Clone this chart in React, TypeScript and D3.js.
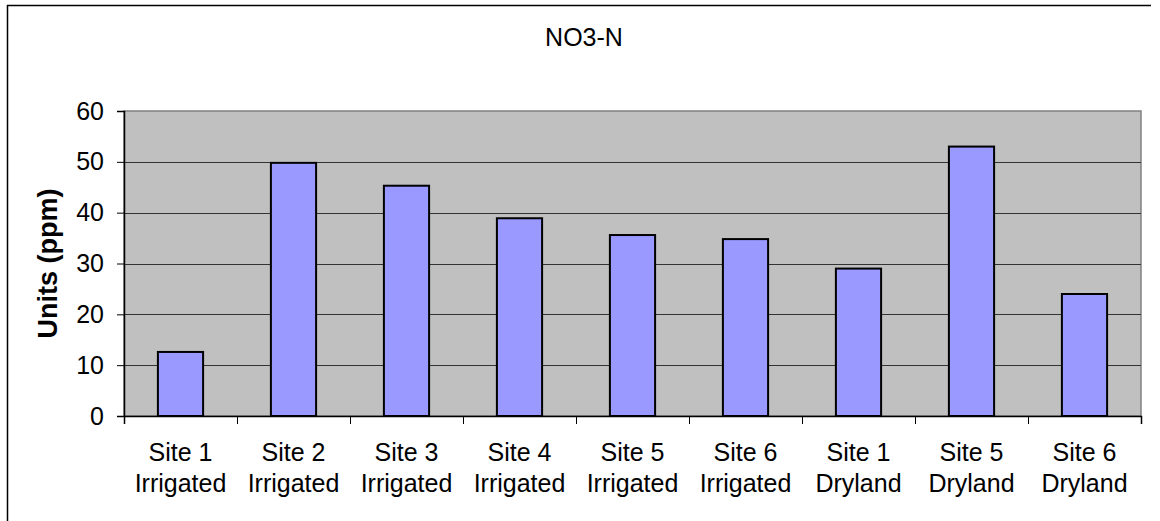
// @ts-nocheck
import React from 'react'
import * as d3 from 'd3'

const categories = [
  ['Site 1', 'Irrigated'],
  ['Site 2', 'Irrigated'],
  ['Site 3', 'Irrigated'],
  ['Site 4', 'Irrigated'],
  ['Site 5', 'Irrigated'],
  ['Site 6', 'Irrigated'],
  ['Site 1', 'Dryland'],
  ['Site 5', 'Dryland'],
  ['Site 6', 'Dryland'],
]
const values = [12.6, 49.8, 45.3, 38.9, 35.6, 34.8, 29.0, 53.0, 24.0]
const yTicks = [0, 10, 20, 30, 40, 50, 60]
const title = 'NO3-N'
const yLabel = 'Units (ppm)'

const App = () => {
  const svgRef = React.useRef(null)
  const width = 1160
  const height = 521
  const plot = { left: 124, right: 1141, top: 111, bottom: 416 }

  React.useEffect(() => {
    const svg = d3.select(svgRef.current)
    svg.selectAll('*').remove()
    const font = 'Arial, "Liberation Sans", sans-serif'

    // outer chart border (only top and left visible)
    svg.append('line').attr('x1', 7.5).attr('x2', 7.5).attr('y1', 5).attr('y2', height)
      .attr('stroke', '#000').attr('stroke-width', 1.5)
    svg.append('line').attr('x1', 7).attr('x2', 1151).attr('y1', 5.5).attr('y2', 5.5)
      .attr('stroke', '#000').attr('stroke-width', 1.5)

    const x = d3.scaleBand().domain(d3.range(categories.length))
      .range([plot.left, plot.right]).paddingInner(0).paddingOuter(0)
    const y = d3.scaleLinear().domain([0, 60]).range([plot.bottom, plot.top])
    const barW = x.bandwidth() / 2.5

    // plot area
    svg.append('rect').attr('x', plot.left).attr('y', plot.top)
      .attr('width', plot.right - plot.left).attr('height', plot.bottom - plot.top)
      .attr('fill', '#C0C0C0').attr('stroke', '#808080').attr('stroke-width', 1.5)

    // gridlines
    svg.append('g').selectAll('line').data(yTicks.filter((t) => t > 0 && t < 60)).enter()
      .append('line')
      .attr('x1', plot.left).attr('x2', plot.right)
      .attr('y1', (d) => Math.round(y(d)) + 0.5).attr('y2', (d) => Math.round(y(d)) + 0.5)
      .attr('stroke', '#333').attr('stroke-width', 1)

    // bars
    svg.append('g').selectAll('rect').data(values).enter().append('rect')
      .attr('x', (d, i) => x(i) + (x.bandwidth() - barW) / 2)
      .attr('y', (d) => y(d))
      .attr('width', barW)
      .attr('height', (d) => y(0) - y(d))
      .attr('fill', '#9999FF').attr('stroke', '#000').attr('stroke-width', 2)

    // y axis
    const yAxis = d3.axisLeft(y).tickValues(yTicks).tickSize(7).tickPadding(13)
    const yg = svg.append('g').attr('transform', `translate(${plot.left},0)`).call(yAxis)
    yg.select('.domain').attr('stroke', '#000').attr('stroke-width', 1.5)
    yg.selectAll('line').attr('stroke', '#000')
    yg.selectAll('text').attr('font-family', font).attr('font-size', 25).attr('fill', '#000')

    // x axis
    const xAxis = d3.axisBottom(
      d3.scaleLinear().domain([0, categories.length]).range([plot.left, plot.right])
    ).tickValues(d3.range(categories.length + 1)).tickSize(8).tickFormat('')
    const xg = svg.append('g').attr('transform', `translate(0,${plot.bottom})`).call(xAxis)
    xg.select('.domain').attr('stroke', '#000').attr('stroke-width', 1.5)
    xg.selectAll('line').attr('stroke', '#000')

    const labels = svg.append('g').selectAll('text').data(categories).enter().append('text')
      .attr('x', (d, i) => x(i) + x.bandwidth() / 2)
      .attr('text-anchor', 'middle')
      .attr('font-family', font).attr('font-size', 25).attr('fill', '#000')
    labels.append('tspan').attr('x', (d, i) => x(i) + x.bandwidth() / 2).attr('y', 461).text((d) => d[0])
    labels.append('tspan').attr('x', (d, i) => x(i) + x.bandwidth() / 2).attr('y', 492).text((d) => d[1])

    // title
    svg.append('text').attr('x', 584).attr('y', 46).attr('text-anchor', 'middle')
      .attr('font-family', font).attr('font-size', 25).attr('fill', '#000').text(title)

    // y label
    svg.append('text').attr('transform', `translate(57,${(plot.top + plot.bottom) / 2}) rotate(-90)`)
      .attr('text-anchor', 'middle').attr('font-family', font).attr('font-size', 27)
      .attr('font-weight', 'bold').attr('fill', '#000').text(yLabel)
  }, [])

  return (
    <svg
      ref={svgRef}
      width={width}
      height={height}
      style={{ position: 'absolute', left: 0, top: 0, background: '#fff' }}
    />
  )
}

export default App
